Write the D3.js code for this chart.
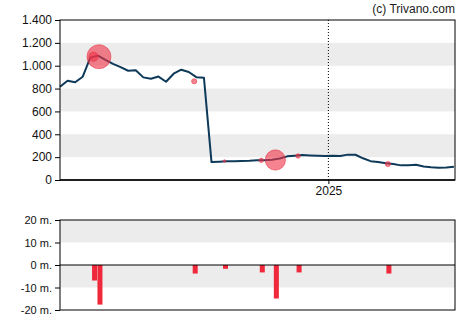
<!DOCTYPE html>
<html>
<head>
<meta charset="utf-8">
<script src="https://cdn.jsdelivr.net/npm/d3@7"></script>
<style>
  html, body { margin: 0; padding: 0; background: #fff; }
  svg { display: block; font-family: "Liberation Sans", Arial, sans-serif; }
</style>
</head>
<body>
<svg id="chart" width="470" height="325"></svg>
<script>
// Weekly closing prices, starting on the first week below
const firstWeek = "2024-04-28";
const prices = [
  816, 869, 855, 904, 1070, 1088, 1051, 1016, 988, 956,
  960, 898, 886, 905, 860, 930, 965, 945, 900, 895,
  157, 160, 163, 165, 166, 168, 172, 172, 178, 188,
  207, 212, 218, 215, 212, 210, 212, 210, 222, 221,
  190, 165, 158, 146, 140, 128, 128, 133, 118, 112,
  108, 110, 115
];

// Insider trades: date, price, volume in millions (negative = sale)
const tradeDates = ["2024-05-29", "2024-06-03", "2024-08-30", "2024-09-27",
                    "2024-10-31", "2024-11-13", "2024-12-04", "2025-02-25"];
const tradePrices = [1079, 1079, 864, 166, 172, 175, 210, 140];
const tradeVolumes = [-6.9, -17.6, -3.8, -1.7, -3.3, -14.9, -3.3, -3.8];

const priceTicks = [0, 200, 400, 600, 800, 1000, 1200, 1400];
const priceBands = [[1000, 1200], [600, 800], [200, 400]];
const volumeTicks = [-20, -10, 0, 10, 20];
const volumeBands = [[10, 20], [-10, 0]];
const yearMarks = ["2025-01-01"];

const parse = d3.timeParse("%Y-%m-%d");
const start = parse(firstWeek);
const priceData = prices.map((v, i) => ({ date: d3.timeDay.offset(start, 7 * i), value: v }));
const trades = tradeDates.map((d, i) => ({
  date: parse(d), price: tradePrices[i], volume: tradeVolumes[i]
}));

const svg = d3.select("#chart");
const left = 60, right = 455;
const main = { top: 20, bottom: 180 };
const vol = { top: 220, bottom: 310 };

const x = d3.scaleTime()
  .domain([start, d3.timeDay.offset(start, 365)])
  .range([left, right]);
const y = d3.scaleLinear().domain([0, 1400]).range([main.bottom, main.top]);
const yv = d3.scaleLinear().domain([-20, 20]).range([vol.bottom, vol.top]);
const rScale = d3.scaleLinear().domain([0, 17.6]).range([0, 12]);

const fmt = d3.formatLocale({ decimal: ",", thousands: ".", grouping: [3], currency: ["", ""] }).format(",d");

// copyright
svg.append("text")
  .attr("x", right).attr("y", 13)
  .attr("text-anchor", "end")
  .attr("font-size", 12)
  .attr("fill", "#222")
  .text("(c) Trivano.com");

// ---- price panel ----
svg.append("g").selectAll("rect").data(priceBands).join("rect")
  .attr("x", left).attr("width", right - left)
  .attr("y", d => y(d[1])).attr("height", d => y(d[0]) - y(d[1]))
  .attr("fill", "#ececec");

svg.append("g").selectAll("line").data(yearMarks).join("line")
  .attr("x1", d => x(parse(d))).attr("x2", d => x(parse(d)))
  .attr("y1", main.top).attr("y2", main.bottom)
  .attr("stroke", "#000").attr("stroke-width", 1)
  .attr("stroke-dasharray", "1,2");

const line = d3.line().x(d => x(d.date)).y(d => y(d.value));
svg.append("path")
  .datum(priceData)
  .attr("d", line)
  .attr("fill", "none")
  .attr("stroke", "#0e3a5a")
  .attr("stroke-width", 2)
  .attr("stroke-linejoin", "round");

svg.append("g").selectAll("circle").data(trades).join("circle")
  .attr("cx", d => x(d.date))
  .attr("cy", d => y(d.price))
  .attr("r", d => Math.max(1.3, rScale(Math.abs(d.volume))))
  .attr("fill", "rgba(240,50,70,0.6)")
  .attr("stroke", "rgba(230,40,60,0.5)")
  .attr("stroke-width", 1);

const yAxis = d3.axisLeft(y).tickValues(priceTicks).tickSize(5).tickPadding(3).tickFormat(fmt);
const gy = svg.append("g").attr("transform", `translate(${left},0)`).call(yAxis);
gy.select(".domain").remove();
gy.selectAll("text").attr("font-size", 12).attr("fill", "#111").attr("font-family", "'Liberation Sans', Arial, sans-serif");
gy.selectAll("line").attr("stroke", "#000");

const xAxis = d3.axisBottom(x).tickValues(yearMarks.map(parse)).tickSize(4).tickPadding(2)
  .tickFormat(d3.timeFormat("%Y"));
const gx = svg.append("g").attr("transform", `translate(0,${main.bottom})`).call(xAxis);
gx.select(".domain").remove();
gx.selectAll("text").attr("font-size", 12).attr("fill", "#111").attr("font-family", "'Liberation Sans', Arial, sans-serif");

svg.append("rect")
  .attr("x", left).attr("y", main.top)
  .attr("width", right - left).attr("height", main.bottom - main.top)
  .attr("fill", "none").attr("stroke", "#000").attr("stroke-width", 1);
svg.append("line")
  .attr("x1", left).attr("x2", right)
  .attr("y1", main.bottom).attr("y2", main.bottom)
  .attr("stroke", "#000").attr("stroke-width", 1.5);

// ---- volume panel ----
svg.append("g").selectAll("rect").data(volumeBands).join("rect")
  .attr("x", left).attr("width", right - left)
  .attr("y", d => yv(d[1])).attr("height", d => yv(d[0]) - yv(d[1]))
  .attr("fill", "#ececec");

svg.append("g").selectAll("rect").data(trades).join("rect")
  .attr("x", d => x(d.date) - 1.5)
  .attr("width", 5)
  .attr("y", d => yv(Math.max(0, d.volume)))
  .attr("height", d => Math.abs(yv(d.volume) - yv(0)))
  .attr("fill", "#f0283c");

const yvAxis = d3.axisLeft(yv).tickValues(volumeTicks).tickSize(5).tickPadding(3)
  .tickFormat(d => d + " m.");
const gyv = svg.append("g").attr("transform", `translate(${left},0)`).call(yvAxis);
gyv.select(".domain").remove();
gyv.selectAll("text").attr("font-size", 11).attr("fill", "#111").attr("font-family", "'Liberation Sans', Arial, sans-serif");
gyv.selectAll("line").attr("stroke", "#000");

svg.append("rect")
  .attr("x", left).attr("y", vol.top)
  .attr("width", right - left).attr("height", vol.bottom - vol.top)
  .attr("fill", "none").attr("stroke", "#000").attr("stroke-width", 1);
svg.append("line")
  .attr("x1", left).attr("x2", right)
  .attr("y1", yv(0)).attr("y2", yv(0))
  .attr("stroke", "#000").attr("stroke-width", 1);
</script>
</body>
</html>
